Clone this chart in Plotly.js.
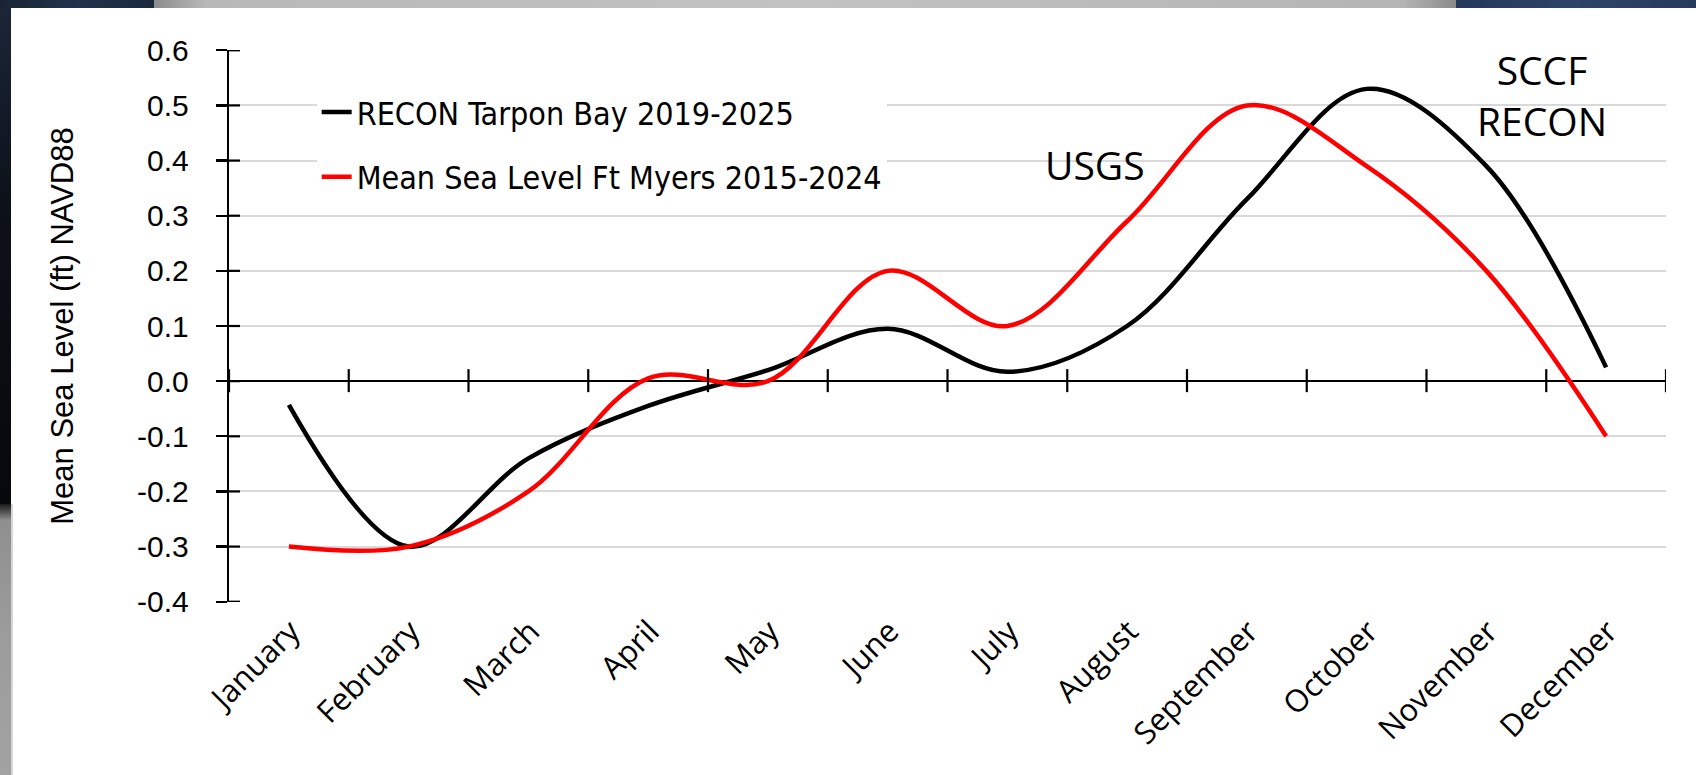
<!DOCTYPE html>
<html>
<head>
<meta charset="utf-8">
<script src="https://cdn.plot.ly/plotly-3.0.1.min.js"></script>
<style>
  html, body { margin: 0; padding: 0; width: 1696px; height: 775px; overflow: hidden; background: #ffffff; }
  .bg { position: absolute; }
  #chart { position: absolute; left: 0; top: 0; width: 1696px; height: 775px; }
</style>
</head>
<body>
<div class="bg" style="left:0;top:0;width:154px;height:8px;background:linear-gradient(90deg,#1a2434,#23324a 50%,#1b283c);"></div>
<div class="bg" style="left:154px;top:0;width:1302px;height:8px;background:linear-gradient(90deg,#8c8c8c,#b8b8b8 4%,#c2c2c2 50%,#b4b4b4 96%,#8a8a8a);"></div>
<div class="bg" style="left:1456px;top:0;width:240px;height:8px;background:linear-gradient(90deg,#24385a,#2e4468 50%,#263a5c);"></div>
<div class="bg" style="left:0;top:8px;width:11px;height:496px;background:linear-gradient(180deg,#1b2638,#0d1118 40%,#07080b);"></div>
<div class="bg" style="left:0;top:504px;width:11px;height:271px;background:linear-gradient(180deg,#1a1a1a,#8f8f8f 6%,#9c9c9c 50%,#a2a2a2);"></div>
<div class="bg" style="left:11px;top:504px;width:2px;height:271px;background:#d6d6d6;"></div>
<div id="chart"></div>
<script>
const months = ["January","February","March","April","May","June","July","August","September","October","November","December"];
const reconTarponBay = [-0.043, -0.30, -0.14, -0.045, 0.02, 0.095, 0.017, 0.10, 0.33, 0.53, 0.39, 0.025];
const mslFtMyers = [-0.30, -0.30, -0.20, 0.005, 0.0, 0.20, 0.10, 0.29, 0.50, 0.39, 0.20, -0.10];
const yTickValues = [-0.4, -0.3, -0.2, -0.1, 0.0, 0.1, 0.2, 0.3, 0.4, 0.5, 0.6];
const yTickLabels = ["-0.4", "-0.3", "-0.2", "-0.1", "0.0", "0.1", "0.2", "0.3", "0.4", "0.5", "0.6"];
const seriesNames = ["RECON Tarpon Bay 2019-2025", "Mean Sea Level Ft Myers 2015-2024"];
const annotationTexts = ["USGS", "SCCF<br>RECON"];

const traces = [
  {
    x: months, y: reconTarponBay, name: seriesNames[0], type: "scatter", mode: "lines",
    line: { color: "#000000", width: 4.5, shape: "spline", smoothing: 1 },
    legendgroup: "a", hoverinfo: "skip"
  },
  {
    x: months, y: mslFtMyers, name: seriesNames[1], type: "scatter", mode: "lines",
    line: { color: "#ff0000", width: 4.5, shape: "spline", smoothing: 1 },
    legendgroup: "b", hoverinfo: "skip"
  }
];

const shapes = [];
// crossing tick marks on the x axis drawn at y = 0 (category boundaries)
for (let i = 0; i <= months.length; i++) {
  shapes.push({
    type: "line", xref: "x", yref: "y", ysizemode: "pixel", yanchor: 0,
    x0: i - 0.5, x1: i - 0.5, y0: -11, y1: 12,
    line: { color: "#000000", width: 2.2 }, layer: "above"
  });
}
// inner halves of y axis tick marks
yTickValues.forEach(v => {
  shapes.push({
    type: "line", xref: "paper", yref: "y", xsizemode: "pixel", xanchor: 0,
    x0: 0, x1: 11, y0: v, y1: v,
    line: { color: "#000000", width: 2.2 }, layer: "above"
  });
});

const layout = {
  width: 1696, height: 775,
  paper_bgcolor: "rgba(0,0,0,0)",
  plot_bgcolor: "rgba(0,0,0,0)",
  margin: { l: 229, r: 30, t: 50, b: 173, autoexpand: false },
  showlegend: true,
  legend: {
    x: 0.061, y: 0.937, xanchor: "left", yanchor: "top",
    bgcolor: "#ffffff", borderwidth: 0,
    font: { family: "DejaVu Sans Condensed, Liberation Sans Narrow, sans-serif", size: 32, color: "#000000" },
    traceorder: "grouped", tracegroupgap: 20, itemwidth: 30
  },
  xaxis: {
    type: "category", categoryarray: months, range: [-0.5, months.length - 0.5],
    showgrid: false, showline: false, zeroline: false, ticks: "",
    tickangle: -45, ticklabelstandoff: 4, ticklabelshift: 2,
    tickfont: { family: "Open Sans, sans-serif", size: 31, color: "#000000" },
    fixedrange: true
  },
  yaxis: {
    range: [-0.4005, 0.6005],
    tickvals: yTickValues, ticktext: yTickLabels,
    showgrid: true, gridcolor: "#d9d9d9", gridwidth: 2,
    zeroline: true, zerolinecolor: "#000000", zerolinewidth: 2.2,
    showline: true, linecolor: "#000000", linewidth: 2.2,
    ticks: "outside", ticklen: 11, tickwidth: 2.2, tickcolor: "#000000",
    ticklabelstandoff: 21,
    tickfont: { family: "Liberation Sans, Arial, sans-serif", size: 30, color: "#000000" },
    title: { text: "Mean Sea Level (ft) NAVD88", standoff: 54,
             font: { family: "Liberation Sans, Arial, sans-serif", size: 31, color: "#000000" } },
    fixedrange: true
  },
  shapes: shapes,
  annotations: [
    { text: annotationTexts[0], xref: "paper", yref: "paper", x: (1095 - 229) / 1437, y: (602 - 164) / 552,
      xanchor: "center", yanchor: "middle", showarrow: false,
      font: { family: "Open Sans, sans-serif", size: 39, color: "#000000" } },
    { text: annotationTexts[1], xref: "paper", yref: "paper", x: (1542 - 229) / 1437, y: (602 - 95) / 552,
      xanchor: "center", yanchor: "middle", showarrow: false, align: "center",
      font: { family: "Open Sans, sans-serif", size: 39, color: "#000000" } }
  ]
};

Plotly.newPlot("chart", traces, layout, { staticPlot: true, displayModeBar: false });
</script>
</body>
</html>
